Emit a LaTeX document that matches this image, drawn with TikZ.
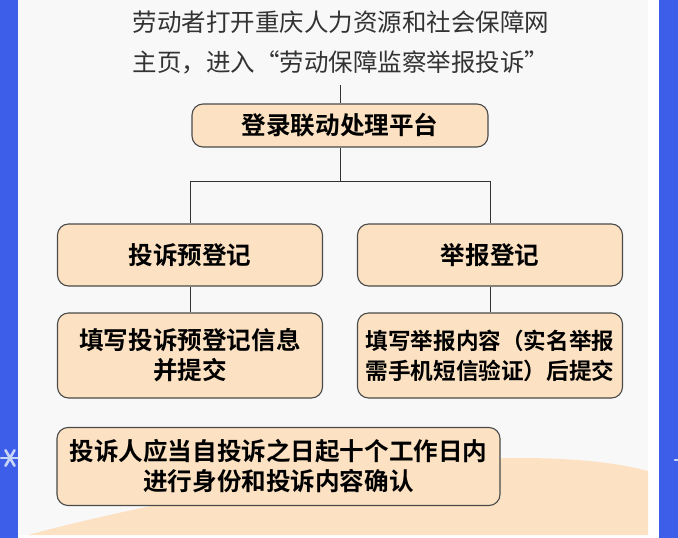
\documentclass[tikz,border=0pt]{standalone}
\usepackage{fontspec}
\setmainfont{Noto Sans CJK SC}[BoldFont={Noto Sans CJK SC Bold}]
\usetikzlibrary{positioning}
\definecolor{sideblue}{HTML}{3D5EE8}
\definecolor{panelgray}{HTML}{F8F8F9}
\definecolor{peach}{HTML}{FCE2C2}
\definecolor{edgegray}{HTML}{4A4A4A}
\definecolor{ink}{HTML}{333333}
\definecolor{flake}{HTML}{C9D5F7}
\tikzset{
  stepbox/.style={draw=edgegray, line width=1.1pt, fill=peach, rounded corners=11pt,
    align=center, inner sep=0pt, text=black, font=\bfseries\fontsize{24.6}{30}\selectfont},
  link/.style={draw=ink, line width=0.9pt}
}
\begin{document}
\begin{tikzpicture}[x=1pt, y=-1pt]
    % Draw the frame and the background
    \useasboundingbox (0, 0) rectangle (678, 538);
    \fill[white] (0, 0) rectangle (678, 538);
    \fill[sideblue] (0, 0) rectangle (18, 538);
    \fill[sideblue] (659, 0) rectangle (678, 538);
    \fill[panelgray] (18, 0) rectangle (648, 535);
    \fill[peach] (28, 535) .. controls (150, 502) and (380, 458) .. (520, 458)
        .. controls (590, 458) and (630, 466) .. (648, 471) -- (648, 535) -- cycle;

    % Draw the snowflakes at the sides
    \begin{scope}
        \clip (0, 0) rectangle (18, 538) (659, 0) rectangle (678, 538);
        \foreach \a in {0, 60, 120} {
            \draw[flake, line width=2.6pt, line cap=round] (10, 458) ++(\a:9) -- ++(\a+180:18);
            \draw[flake, line width=2.6pt, line cap=round] (684, 460) ++(\a:9) -- ++(\a+180:18);
        }
    \end{scope}

    % Draw the heading
    \node[align=center, text=ink, font=\fontsize{24.5}{40}\selectfont] (title) at (341, 42)
        {劳动者打开重庆人力资源和社会保障网\\主页，进入“劳动保障监察举报投诉”};
    \coordinate (entry) at (340, 85);

    % Draw the boxes
    \node[stepbox, minimum width=296, minimum height=43] (login) at (340, 125.5) {登录联动处理平台};
    \node[stepbox, minimum width=265, minimum height=62] (pre) at (190, 255) {投诉预登记};
    \node[stepbox, minimum width=265, minimum height=62] (report) at (490, 255) {举报登记};
    \node[stepbox, minimum width=265, minimum height=85] (prefill) at (190, 355.5)
        {填写投诉预登记信息\\并提交};
    \node[stepbox, minimum width=265, minimum height=85,
        font=\bfseries\fontsize{22.6}{30}\selectfont] (reportfill) at (490, 355.5)
        {填写举报内容（实名举报\\需手机短信验证）后提交};
    \node[stepbox, minimum width=443, minimum height=78] (confirm) at (278.5, 466.5)
        {投诉人应当自投诉之日起十个工作日内\\进行身份和投诉内容确认};
    \coordinate (fork) at (340, 181);

    % Draw the connectors
    \draw[link] (entry) -- (login);
    \draw[link] (login) -- (fork) -| (pre);
    \draw[link] (fork) -| (report);
    \draw[link] (pre) -- (prefill);
    \draw[link] (report) -- (reportfill);
\end{tikzpicture}
\end{document}
